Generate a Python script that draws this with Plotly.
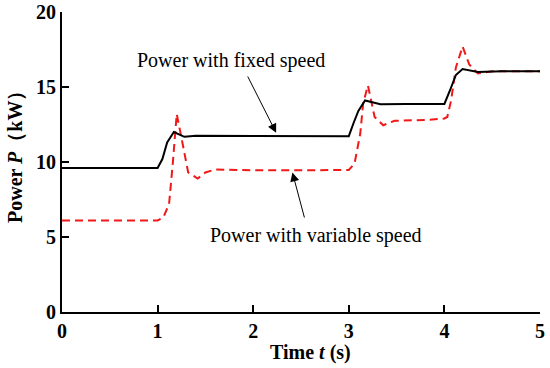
import plotly.graph_objects as go

# Fixed-speed power (black solid)
t_fixed = [0, 1.0, 1.05, 1.1, 1.17, 1.22, 1.28, 1.4, 2.0, 2.5, 3.0, 3.05, 3.1, 3.17, 3.25, 3.33, 3.6, 4.0, 4.06, 4.12, 4.19, 4.27, 4.35, 4.6, 5.0]
p_fixed = [9.6, 9.6, 10.2, 11.3, 12.0, 11.85, 11.68, 11.75, 11.75, 11.72, 11.72, 12.6, 13.4, 14.1, 13.95, 13.85, 13.87, 13.87, 14.8, 15.8, 16.2, 16.1, 16.0, 16.05, 16.05]

# Variable-speed power (red dashed)
t_var = [0, 1.0, 1.06, 1.12, 1.16, 1.2, 1.25, 1.32, 1.42, 1.5, 1.6, 2.0, 2.5, 3.0, 3.06, 3.12, 3.15, 3.2, 3.27, 3.36, 3.48, 3.8, 4.0, 4.03, 4.07, 4.12, 4.19, 4.26, 4.35, 4.5, 5.0]
p_var = [6.1, 6.1, 6.3, 7.2, 10.0, 13.2, 11.6, 9.3, 8.9, 9.3, 9.5, 9.45, 9.45, 9.47, 9.9, 11.9, 13.9, 15.1, 13.0, 12.45, 12.75, 12.8, 12.9, 13.0, 14.1, 16.3, 17.7, 16.5, 15.9, 16.05, 16.05]

x_ticks = [0, 1, 2, 3, 4, 5]
y_ticks = [0, 5, 10, 15, 20]

serif = "Liberation Serif, Times New Roman, serif"

fig = go.Figure()
fig.add_trace(go.Scatter(x=t_var, y=p_var, mode="lines",
                         line=dict(color="#f01818", width=2, dash="8px,5px"),
                         showlegend=False, hoverinfo="skip"))
fig.add_trace(go.Scatter(x=t_fixed, y=p_fixed, mode="lines",
                         line=dict(color="black", width=2),
                         showlegend=False, hoverinfo="skip"))

axis_common = dict(showline=True, linecolor="black", linewidth=2,
                   ticks="inside", ticklen=7, tickwidth=2, tickcolor="black",
                   showgrid=False, zeroline=False, automargin=False,
                   tickfont=dict(family=serif, size=20, color="black", weight="bold"))

fig.update_xaxes(range=[0, 5], tickvals=x_ticks, ticktext=[str(v) for v in x_ticks], **axis_common)
fig.update_yaxes(range=[0, 20], tickvals=y_ticks, ticktext=[str(v) for v in y_ticks],
                 ticklabelstandoff=0, **axis_common)

# Axis titles as annotations
fig.add_annotation(text="<b>Time <i>t</i> (s)</b>", xref="paper", yref="paper",
                   x=(310 - 62) / 478, y=-(352 - 312) / 300, showarrow=False,
                   font=dict(family=serif, size=20, color="black"), xanchor="center", yanchor="middle")
fig.add_annotation(text="<b>Power <i>P</i>（kW）</b>", xref="paper", yref="paper",
                   x=-(62 - 15) / 478, y=(312 - 152) / 300, showarrow=False, textangle=-90,
                   font=dict(family=serif, size=20, color="black"), xanchor="center", yanchor="middle")

# Labels with arrows
fig.add_annotation(text="Power with fixed speed", x=1.77, y=16.8, showarrow=False,
                   font=dict(family=serif, size=20, color="black"))
fig.add_annotation(x=2.24, y=11.95, ax=1.935, ay=15.8, axref="x", ayref="y",
                   showarrow=True, arrowhead=2, arrowsize=1.8, arrowwidth=1, arrowcolor="black", text="")
fig.add_annotation(text="Power with variable speed", x=2.66, y=5.07, showarrow=False,
                   font=dict(family=serif, size=20, color="black"))
fig.add_annotation(x=2.41, y=9.3, ax=2.54, ay=6.2, axref="x", ayref="y",
                   showarrow=True, arrowhead=2, arrowsize=1.8, arrowwidth=1, arrowcolor="black", text="")

fig.update_layout(width=550, height=368, margin=dict(l=62, r=10, t=12, b=56),
                  plot_bgcolor="white", paper_bgcolor="white")

fig.write_html("out.html", config={"displayModeBar": False},
               post_script="document.body.style.margin='0';")
